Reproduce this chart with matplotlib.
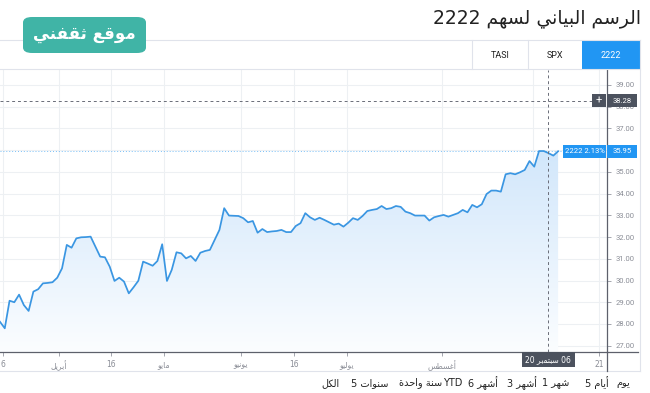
import re
import numpy as np
import matplotlib
matplotlib.use('Agg')
import matplotlib.pyplot as plt
from matplotlib.colors import LinearSegmentedColormap
from matplotlib.patches import Rectangle, FancyBboxPatch
from matplotlib.lines import Line2D
from matplotlib import transforms

# closing price of 2222, one value per session
prices = [28.10, 27.80, 29.07, 29.00, 29.35, 28.87, 28.60, 29.49, 29.60, 29.87,
          29.89, 29.92, 30.13, 30.56, 31.64, 31.51, 31.94, 31.99, 32.00, 32.02,
          31.56, 31.10, 31.07, 30.64, 29.98, 30.13, 29.95, 29.41, 29.69, 29.99,
          30.87, 30.78, 30.68, 30.90, 31.67, 29.98, 30.49, 31.30, 31.25, 31.02,
          31.13, 30.90, 31.28, 31.36, 31.41, 31.87, 32.33, 33.33, 32.99, 32.98,
          32.97, 32.87, 32.68, 32.74, 32.20, 32.37, 32.23, 32.26, 32.28, 32.33,
          32.23, 32.23, 32.51, 32.64, 33.10, 32.91, 32.79, 32.89, 32.79, 32.68,
          32.57, 32.62, 32.48, 32.66, 32.87, 32.79, 32.97, 33.20, 33.25, 33.29,
          33.43, 33.29, 33.33, 33.43, 33.39, 33.17, 33.10, 32.99, 32.99, 32.99,
          32.76, 32.91, 32.97, 33.02, 32.94, 33.02, 33.10, 33.25, 33.14, 33.48,
          33.37, 33.51, 33.98, 34.14, 34.14, 34.09, 34.89, 34.94, 34.89, 34.98,
          35.09, 35.50, 35.24, 35.96, 35.96, 35.86, 35.75, 35.95]

# x axis: positions in sessions
tick_pos = [0.63, 12.37, 23.27, 34.38, 50.52, 61.64, 72.75, 92.66, 111.7, 125.6]
tick_labels = ['6', 'أبريل', '16', 'مايو', 'يونيو', '16', 'يوليو', 'أغسطس', '', '21']
price_ticks = list(range(27, 40))

last_price = 35.95
change = '2.13%'
cross_price = 38.28
cross_pos = 114.9
cross_label = '06 سبتمبر 20'

title = 'الرسم البياني لسهم 2222'
logo = 'موقع ثقفني'
tabs = ['TASI', 'SPX', '2222']
ranges = ['يوم', '5 أيام', '1 شهر', '3 أشهر', '6 أشهر', 'YTD', 'سنة واحدة', '5 سنوات', 'الكل']

# arabic letter forms: isolated, final, initial, medial
FORMS = {
    'ا': (0xFE8D, 0xFE8E, None, None), 'أ': (0xFE83, 0xFE84, None, None),
    'ب': (0xFE8F, 0xFE90, 0xFE91, 0xFE92), 'ة': (0xFE93, 0xFE94, None, None),
    'ت': (0xFE95, 0xFE96, 0xFE97, 0xFE98), 'ث': (0xFE99, 0xFE9A, 0xFE9B, 0xFE9C),
    'ح': (0xFEA1, 0xFEA2, 0xFEA3, 0xFEA4), 'د': (0xFEA9, 0xFEAA, None, None),
    'ر': (0xFEAD, 0xFEAE, None, None), 'س': (0xFEB1, 0xFEB2, 0xFEB3, 0xFEB4),
    'ش': (0xFEB5, 0xFEB6, 0xFEB7, 0xFEB8), 'ط': (0xFEC1, 0xFEC2, 0xFEC3, 0xFEC4),
    'ع': (0xFEC9, 0xFECA, 0xFECB, 0xFECC), 'غ': (0xFECD, 0xFECE, 0xFECF, 0xFED0),
    'ف': (0xFED1, 0xFED2, 0xFED3, 0xFED4), 'ق': (0xFED5, 0xFED6, 0xFED7, 0xFED8),
    'ك': (0xFED9, 0xFEDA, 0xFEDB, 0xFEDC), 'ل': (0xFEDD, 0xFEDE, 0xFEDF, 0xFEE0),
    'م': (0xFEE1, 0xFEE2, 0xFEE3, 0xFEE4), 'ن': (0xFEE5, 0xFEE6, 0xFEE7, 0xFEE8),
    'ه': (0xFEE9, 0xFEEA, 0xFEEB, 0xFEEC), 'و': (0xFEED, 0xFEEE, None, None),
    'ي': (0xFEF1, 0xFEF2, 0xFEF3, 0xFEF4),
}
LTR = "[0-9A-Za-z.%']"


def shape(txt, rtl=True):
    out = []
    for i, ch in enumerate(txt):
        f = FORMS.get(ch)
        if f is None:
            out.append(ch)
            continue
        prev = FORMS.get(txt[i - 1]) if i > 0 else None
        nxt = FORMS.get(txt[i + 1]) if i + 1 < len(txt) else None
        jp = prev is not None and prev[2] is not None
        jn = f[2] is not None and nxt is not None
        if jp and jn:
            c = f[3]
        elif jp:
            c = f[1]
        elif jn:
            c = f[2]
        else:
            c = f[0]
        out.append(chr(c))
    s = ''.join(out)
    runs = re.findall(LTR + '+|[^0-9A-Za-z.%\']+', s)
    if rtl:
        runs = runs[::-1]
    res = []
    for r in runs:
        if re.match(LTR, r):
            res.append(r)
        elif rtl:
            res.append(r[::-1])
        else:
            core = r.strip(' ')
            res.append(r[:len(r) - len(r.lstrip(' '))] + core[::-1] + r[len(r.rstrip(' ')):])
    return ''.join(res)


W, H = 650, 393
AR = 'DejaVu Sans'
NUM = 'Roboto'


def fx(px):
    return px / W


def fy(py):
    return 1 - py / H


def hline(x0, x1, y, c='#e0e3eb', lw=0.8, **kw):
    fig.add_artist(Line2D([fx(x0), fx(x1)], [fy(y), fy(y)], color=c, lw=lw, **kw))


def vline(x, y0, y1, c='#e0e3eb', lw=0.8, **kw):
    fig.add_artist(Line2D([fx(x), fx(x)], [fy(y0), fy(y1)], color=c, lw=lw, **kw))


fig = plt.figure(figsize=(6.5, 3.93), dpi=100)
fig.patch.set_facecolor('white')

ymin, ymax = 26.71, 39.69
ax = fig.add_axes([0, fy(352), fx(607), (352 - 70) / H])
x = np.arange(len(prices))
px_per_unit = (352 - 70) / (ymax - ymin)

fill = ax.fill_between(x, prices, ymin, color='none', lw=0)
cmap = LinearSegmentedColormap.from_list('area', ['#fbfdff', '#d2e7fb'])
grad = np.linspace(0, 1, 200).reshape(-1, 1)
im = ax.imshow(grad, extent=(x[0], x[-1], ymin, max(prices)), origin='lower',
               aspect='auto', cmap=cmap, zorder=1)
im.set_clip_path(fill.get_paths()[0], transform=ax.transData)
ax.plot(x, prices, color='#3a96e2', lw=1.25, zorder=3, solid_joinstyle='round')

ax.set_xlim(0, 127.25)
ax.set_ylim(ymin, ymax)
ax.set_yticks(price_ticks)
# 36.00 sits under the last-price label
ax.set_yticklabels(['' if v == 36 else '%.2f' % v for v in price_ticks], fontfamily=NUM)
ax.set_xticks(tick_pos)
ax.set_xticklabels([shape(t) for t in tick_labels], fontfamily=AR)
ax.yaxis.tick_right()
ax.grid(color='#edf0f3', lw=0.8, zorder=0)
ax.set_axisbelow(True)
for s in ['top', 'left']:
    ax.spines[s].set_visible(False)
for s in ['bottom', 'right']:
    ax.spines[s].set_color('#5d606b')
    ax.spines[s].set_linewidth(0.9)
ax.tick_params(axis='y', length=3, width=0.6, color='#9598a1', labelsize=5.5,
               labelcolor='#8a8d96', pad=3)
ax.tick_params(axis='x', length=3, width=0.6, color='#9598a1', labelsize=5.5,
               labelcolor='#8a8d96', pad=3)

# last price dotted line and crosshair
ax.axhline(last_price, color='#2196f3', ls=(0, (1, 2)), lw=0.7, alpha=0.6, zorder=2)
ax.axhline(cross_price, color='#6a6d78', ls=(0, (3, 3)), lw=0.7, zorder=4)
ax.axvline(cross_pos, color='#6a6d78', ls=(0, (3, 3)), lw=0.7, zorder=4)

tr = transforms.blended_transform_factory(fig.transFigure, ax.transData)
trx = transforms.blended_transform_factory(ax.transData, fig.transFigure)
bh = 13 / px_per_unit


def ylabel_box(x0, x1, yv, txt, fc, fs=5.5):
    ax.add_patch(Rectangle((fx(x0), yv - bh / 2), fx(x1) - fx(x0), bh, transform=tr,
                           fc=fc, ec='none', zorder=9, clip_on=False))
    ax.text(fx((x0 + x1) / 2), yv, txt, transform=tr, ha='center', va='center',
            color='white', fontsize=fs, fontfamily=NUM, zorder=10, clip_on=False)


ylabel_box(607, 637, last_price, '%.2f' % last_price, '#2196f3')
ylabel_box(563, 606, last_price, '2222 ' + change, '#2196f3')
ylabel_box(607, 637, cross_price, '%.2f' % cross_price, '#4c525e')
ylabel_box(592, 606, cross_price, '+', '#4c525e', fs=8)

dw = 53 / W * 127.25 / (607 / W)
ax.add_patch(Rectangle((cross_pos - dw / 2, fy(367)), dw, 15 / H, transform=trx,
                       fc='#4c525e', ec='none', zorder=9, clip_on=False))
ax.text(cross_pos, fy(359.5), shape(cross_label), transform=trx, ha='center', va='center',
        color='white', fontsize=5.5, fontfamily=AR, zorder=10, clip_on=False)

# frame lines
hline(0, 640, 40)
hline(0, 640, 69)
hline(0, 640, 371)
hline(607, 638, 352, c='#5d606b', lw=0.9)
vline(607, 352, 371, c='#5d606b', lw=0.9)
vline(640, 40, 371)

# tabs
fig.add_artist(Rectangle((fx(582), fy(69)), fx(640) - fx(582), (69 - 40) / H,
                         transform=fig.transFigure, fc='#2196f3', ec='none'))
vline(472, 40, 69)
vline(528, 40, 69)
for t, cx in zip(tabs, [500, 555, 611]):
    fig.text(fx(cx), fy(55), t, ha='center', va='center', fontsize=6.5, fontfamily=NUM,
             color='white' if t == '2222' else '#222')

# title and logo
fig.text(fx(641), fy(18), shape(title), ha='right', va='center', fontsize=13.5,
         fontfamily=AR, color='#222')
fig.add_artist(FancyBboxPatch((fx(23), fy(53)), fx(146) - fx(23), (53 - 17) / H,
                              boxstyle='round,pad=0,rounding_size=0.014',
                              transform=fig.transFigure, fc='#40b4a6', ec='none',
                              zorder=5))
fig.text(fx(84.5), fy(34), shape(logo), ha='center', va='center', fontsize=12,
         fontweight='bold', fontfamily=AR, color='white', zorder=6)

# range buttons
for t, rx in zip(ranges, [630, 609, 569, 537, 498, 462, 442, 388, 340]):
    fig.text(fx(rx), fy(383), shape(t, rtl=False), ha='right', va='center', fontsize=7,
             fontfamily=AR, color='#222')

fig.savefig('out.png', dpi=100)
